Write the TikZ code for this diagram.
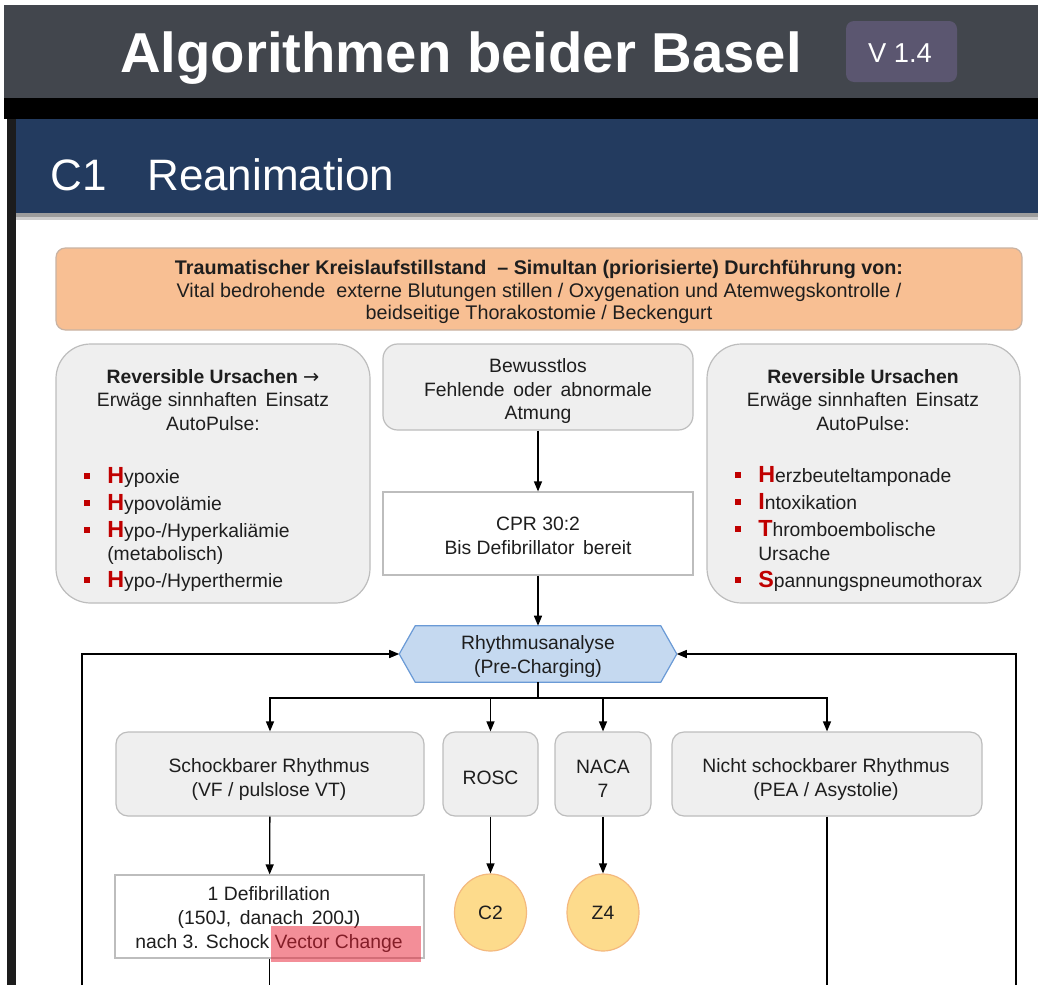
\documentclass[tikz,border=0pt]{standalone}
\usepackage{fontspec}
\setmainfont{Liberation Sans}
\newfontfamily\arrowfont{DejaVu Sans}
\usetikzlibrary{shapes.geometric,arrows.meta,calc}

\definecolor{barcol}{HTML}{42464D}
\definecolor{badgecol}{HTML}{5B5670}
\definecolor{navy}{HTML}{233B5F}
\definecolor{stripcol}{HTML}{1C1C1C}
\definecolor{orangefill}{HTML}{F8BF93}
\definecolor{orangeline}{HTML}{C9B3A3}
\definecolor{boxfill}{HTML}{EFEFEF}
\definecolor{boxline}{HTML}{BDBDBD}
\definecolor{hexfill}{HTML}{C5D9F0}
\definecolor{hexline}{HTML}{6A9AD6}
\definecolor{circfill}{HTML}{FDDB8C}
\definecolor{circline}{HTML}{F4B97E}
\definecolor{initred}{HTML}{C00000}
\definecolor{marker}{RGB}{233,30,50}
\definecolor{ink}{HTML}{1E1E1E}
\definecolor{shadowdark}{HTML}{9C9C9C}
\definecolor{shadowlight}{HTML}{CDCDCD}

% first letter of each cause, larger and red
\newcommand\redinit[1]{{\fontsize{17.5}{17.5}\selectfont\bfseries\color{initred}#1}}

\tikzset{
  wh/.style 2 args={minimum width=#1*0.75pt, minimum height=#2*0.75pt},
  txt/.style={font=\fontsize{14.5}{17.6}\selectfont, text=ink, align=center, inner sep=0pt},
  rowtxt/.style={font=\fontsize{14.5}{18}\selectfont, text=ink, align=center, inner sep=0pt},
  softbox/.style={draw=boxline, fill=boxfill, line width=0.9pt, inner sep=0pt},
  plainbox/.style={draw=boxline, fill=white, line width=0.9pt, inner sep=0pt},
  itemtxt/.style={font=\fontsize{14.5}{17.4}\selectfont, text=ink, inner sep=0pt},
  bullet/.style={fill=initred, inner sep=0pt, minimum size=4.5pt},
  circ/.style={ellipse, draw=circline, fill=circfill, line width=0.9pt, inner sep=0pt, txt},
  arr/.style={-{Triangle[length=7.5pt,width=6pt]}, line width=1pt, draw=black},
  wire/.style={line width=1pt, draw=black}
}

\begin{document}
\begin{tikzpicture}[x=0.75pt,y=-0.75pt]

\useasboundingbox (0,0) rectangle (1038,985);

% page frame: app bar, black gap, side strip, section header
\fill[white] (0,0) rectangle (1038,985);
\fill[barcol] (4,5) rectangle (1038,98);
\fill[black] (4,98) rectangle (1038,119);
\fill[stripcol] (7,119) rectangle (16,985);
\fill[navy] (16,119) rectangle (1038,213);
\fill[shadowdark] (16,213) rectangle (1038,217);
\fill[shadowlight] (16,217) rectangle (1038,220);

% app title and version badge
\node[anchor=base, text=white, inner sep=0pt,
      font=\fontsize{42.2}{48}\selectfont\bfseries] (title) at (461,72) {Algorithmen beider Basel};
\node[fill=badgecol, rounded corners=6pt, wh={111}{61}, inner sep=0pt] (badge) at (901.5,51.5) {};
\node[anchor=base, text=white, inner sep=0pt,
      font=\fontsize{20.5}{24}\selectfont] (version) at (900,62) {V 1.4};

% section header
\node[anchor=base west, text=white, inner sep=0pt,
      font=\fontsize{33}{40}\selectfont] (code) at (50,190) {C1};
\node[anchor=base west, text=white, inner sep=0pt,
      font=\fontsize{33}{40}\selectfont] (section) at (147,190) {Reanimation};

% trauma banner
\node[draw=orangeline, fill=orangefill, rounded corners=7pt, line width=0.9pt,
      wh={966}{82}, inner sep=0pt] (trauma) at (539,289) {};
\node[inner sep=0pt, align=center, text=ink,
      font=\fontsize{14.8}{16.9}\selectfont] (traumatxt) at (539,292)
  {\textbf{Traumatischer Kreislaufstillstand \ – Simultan (priorisierte) Durchführung von:}\\
   Vital bedrohende \ externe Blutungen stillen / Oxygenation und Atemwegskontrolle /\\
   beidseitige Thorakostomie / Beckengurt};

% reversible causes, left
\node[softbox, rounded corners=26pt, wh={314}{259}] (lbox) at (213,473.5) {};
\node[txt] (lhead) at (213,400)
  {\textbf{Reversible Ursachen} {\arrowfont\mdseries →}\\Erwäge sinnhaften \,Einsatz\\AutoPulse:};
\node[bullet] (lb1) at (87,476) {};
\node[bullet] (lb2) at (87,503) {};
\node[bullet] (lb3) at (87,530) {};
\node[bullet] (lb4) at (87,580) {};
\node[itemtxt, anchor=base west] (l1) at (107,483) {\redinit{H}ypoxie};
\node[itemtxt, anchor=base west] (l2) at (107,510) {\redinit{H}ypovolämie};
\node[itemtxt, anchor=base west] (l3) at (107,537) {\redinit{H}ypo-/Hyperkaliämie};
\node[itemtxt, anchor=base west] (l3b) at (107,560) {(metabolisch)};
\node[itemtxt, anchor=base west] (l4) at (107,587) {\redinit{H}ypo-/Hyperthermie};

% reversible causes, right
\node[softbox, rounded corners=26pt, wh={313}{259}] (rbox) at (863.5,473.5) {};
\node[txt] (rhead) at (863,400)
  {\textbf{Reversible Ursachen}\\Erwäge sinnhaften \,Einsatz\\AutoPulse:};
\node[bullet] (rb1) at (738,475) {};
\node[bullet] (rb2) at (738,502) {};
\node[bullet] (rb3) at (738,529) {};
\node[bullet] (rb4) at (738,580) {};
\node[itemtxt, anchor=base west] (r1) at (758,482) {\redinit{H}erzbeuteltamponade};
\node[itemtxt, anchor=base west] (r2) at (758,509) {\redinit{I}ntoxikation};
\node[itemtxt, anchor=base west] (r3) at (758,536) {\redinit{T}hromboembolische};
\node[itemtxt, anchor=base west] (r3b) at (758,560) {Ursache};
\node[itemtxt, anchor=base west] (r4) at (758,587) {\redinit{S}pannungspneumothorax};

% main flow: boxes
\node[softbox, rounded corners=11pt, wh={310}{86}] (bew) at (538,387) {};
\node[txt] (bewtxt) at (538,391) {Bewusstlos\\Fehlende \,oder \,abnormale\\Atmung};

\node[plainbox, wh={310}{83}] (cpr) at (538,533.5) {};
\node[rowtxt] (cprtxt) at (538,535.5) {CPR 30:2\\Bis Defibrillator \,bereit};

\node[wh={277}{56}, inner sep=0pt] (hex) at (538,654) {};
\draw[draw=hexline, fill=hexfill, line width=0.9pt]
  (hex.west) -- ($(hex.north west)+(16,0)$) -- ($(hex.north east)+(-16,0)$)
  -- (hex.east) -- ($(hex.south east)+(-16,0)$) -- ($(hex.south west)+(16,0)$) -- cycle;
\node[rowtxt] (hextxt) at (538,656.5) {Rhythmusanalyse\\(Pre-Charging)};

\node[softbox, rounded corners=9pt, wh={308}{84}] (schock) at (270,774) {};
\node[rowtxt] (schocktxt) at (269,779) {Schockbarer Rhythmus\\(VF / pulslose VT)};
\node[softbox, rounded corners=9pt, wh={95}{84}] (rosc) at (490.5,774) {};
\node[rowtxt] (rosctxt) at (490.5,778) {ROSC};
\node[softbox, rounded corners=9pt, wh={96}{84}] (naca) at (603,774) {};
\node[rowtxt] (nacatxt) at (603,779) {NACA\\7};
\node[softbox, rounded corners=9pt, wh={310}{84}] (nicht) at (827,774) {};
\node[rowtxt] (nichttxt) at (826,779) {Nicht schockbarer Rhythmus\\(PEA / Asystolie)};

\node[plainbox, wh={309}{83}] (defib) at (269.5,916.5) {};
\node[rowtxt] (defibtxt) at (269,919.5)
  {1 Defibrillation\\(150J, \,danach \,200J)\\nach 3. Schock Vector Change};
\node[fill=marker, fill opacity=0.5, wh={150}{36}, inner sep=0pt] (vcmark) at (346,944) {};

\node[circ, wh={72}{77}] (c2) at (490.5,912.5) {C2};
\node[circ, wh={72}{77}] (z4) at (603,912.5) {Z4};

% connectors
\coordinate (split) at (538,698);
\coordinate (defibend) at (269.5,985);
\coordinate (nichtend) at (827,985);
\coordinate (lloop) at (82,985);
\coordinate (rloop) at (1016,985);

\draw[arr] (bew) -- (cpr);
\draw[arr] (cpr) -- (hex.north);
\draw[wire] (hex.south) -- (split);
\draw[arr] (split) -| (schock.north);
\draw[arr] (split) -| (rosc.north);
\draw[arr] (split) -| (naca.north);
\draw[arr] (split) -| (nicht.north);
\draw[arr] (schock) -- (defib);
\draw[arr] (rosc) -- (c2);
\draw[arr] (naca) -- (z4);
\draw[wire] (defib.south) -- (defibend);
\draw[wire] (nicht.south) -- (nichtend);
\draw[arr] (lloop) |- (hex.west);
\draw[arr] (rloop) |- (hex.east);
\end{tikzpicture}
\end{document}
